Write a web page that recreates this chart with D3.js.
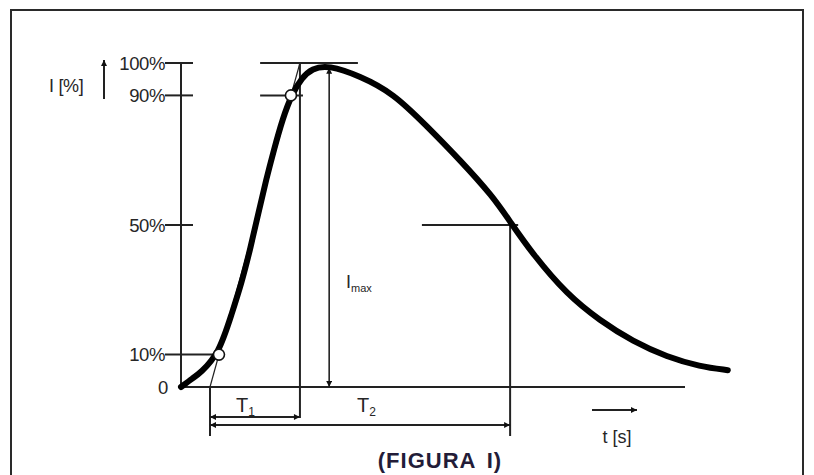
<!DOCTYPE html>
<html>
<head>
<meta charset="utf-8">
<script src="https://cdn.jsdelivr.net/npm/d3@7"></script>
<style>
  body { margin: 0; background: #fff; }
  text { font-family: "Liberation Sans", Arial, sans-serif; fill: #262626; }
</style>
</head>
<body>
<svg id="vis-svg" width="814" height="475"></svg>
<script>
var width = 814;
var height = 475;

// pulse curve (time in arbitrary units, current in %)
const curveT = [0, 2.4, 3.8, 7.5, 10.1, 12.0, 13.8, 15.4, 16.9, 18.4, 20.2, 22.0, 24.0, 26.0, 29.2, 35.5, 42.1, 48.8, 55.4, 61.9, 65.3, 69.8, 76.6, 83.1, 89.7, 96.4, 103, 108.5];
const curveI = [0, 2.8, 4.3, 10.2, 22.8, 32, 43, 54, 64, 73, 83, 90.4, 95.5, 98.3, 99.4, 96, 90.7, 80.5, 70, 58.8, 51, 41, 28.5, 20.5, 14, 9.3, 6.3, 5.2];

// y ticks
const tickValues = [0, 10, 50, 90, 100];
const tickLabels = ["0", "10%", "50%", "90%", "100%"];

// construction times
const tOrigin = 5.75;   // virtual start (tangent meets 0)
const tFront = 23.6;    // end of T1 (tangent meets 100%)
const tPeak = 29.4;     // Imax
const tHalf = 65.3;     // 50% on the tail
const tEnd = 100;       // end of time axis

const svg = d3.select("#vis-svg");

const x = d3.scaleLinear().domain([0, 100]).range([181, 685]);
const y = d3.scaleLinear().domain([0, 100]).range([387, 63]);

// frame
svg.append("rect")
  .attr("x", 11).attr("y", 10)
  .attr("width", 792).attr("height", 520)
  .attr("fill", "none").attr("stroke", "#2a2a2a").attr("stroke-width", 2);

// arrow marker
svg.append("defs").append("marker")
  .attr("id", "arr")
  .attr("viewBox", "0 0 10 10")
  .attr("refX", 10).attr("refY", 5)
  .attr("markerWidth", 9).attr("markerHeight", 6)
  .attr("markerUnits", "userSpaceOnUse")
  .attr("orient", "auto-start-reverse")
  .append("path").attr("d", "M0,0L10,5L0,10z").attr("fill", "#111");

const g = svg.append("g");
const stroke = "#222";

function line(x1, y1, x2, y2, w) {
  return g.append("line")
    .attr("x1", x1).attr("y1", y1).attr("x2", x2).attr("y2", y2)
    .attr("stroke", stroke).attr("stroke-width", w || 2);
}

// axes
line(x(0), y(100), x(0), y(0));
line(x(0), y(0), x(tEnd), y(0));

// y ticks + labels
tickValues.forEach((v, i) => {
  if (v > 0) {
    const x2 = v === 10 ? x(tOrigin + (tFront - tOrigin) * 0.1) - 6 : x(0) + 12;
    line(x(0) - 16, y(v), x2, y(v));
  }
  g.append("text")
    .attr("x", v === 0 ? x(0) - 13 : x(0) - 16)
    .attr("y", y(v) + 6.5)
    .attr("text-anchor", "end")
    .attr("font-size", 18.5)
    .attr("letter-spacing", -0.4)
    .text(tickLabels[i]);
});

// y label and arrow
g.append("text").attr("x", 49).attr("y", 92).attr("font-size", 18).attr("letter-spacing", -0.3).text("I [%]");
line(104, 99, 104, 60, 2).attr("marker-end", "url(#arr)");

// helper horizontal lines
line(x(15.7), y(100), x(35.1), y(100));
line(x(15.7), y(90), x(24.2), y(90));
line(x(47.8), y(50), x(66.9), y(50));

// tangent through 10% and 90%
line(x(tOrigin), y(0), x(tFront), y(100), 1.2);

// verticals
line(x(tFront), y(100), x(tFront), 418);
line(x(tOrigin), y(0), x(tOrigin), 436);
line(x(tHalf), y(50), x(tHalf), 436);

// Imax arrow
line(x(tPeak), y(0), x(tPeak), y(98.5), 1.6)
  .attr("marker-start", "url(#arr)").attr("marker-end", "url(#arr)");

// the pulse
const pts = curveT.map((t, i) => [t, curveI[i]]);
g.append("path")
  .datum(pts)
  .attr("fill", "none")
  .attr("stroke", "#000")
  .attr("stroke-width", 6)
  .attr("stroke-linecap", "round")
  .attr("d", d3.line().x(d => x(d[0])).y(d => y(d[1])).curve(d3.curveBasis));

// 10% and 90% points
[0.1, 0.9].forEach(f => {
  g.append("circle")
    .attr("cx", x(tOrigin + (tFront - tOrigin) * f))
    .attr("cy", y(f * 100))
    .attr("r", 5.5)
    .attr("fill", "#fff").attr("stroke", "#111").attr("stroke-width", 1.6);
});

// T1 / T2 dimension arrows
line(x(tOrigin), 417, x(tFront), 417).attr("marker-start", "url(#arr)").attr("marker-end", "url(#arr)");
line(x(tOrigin), 425, x(tHalf), 425).attr("marker-start", "url(#arr)").attr("marker-end", "url(#arr)");

function sub(xp, yp, main, s, size, ss) {
  const t = g.append("text").attr("x", xp).attr("y", yp).attr("font-size", size);
  t.append("tspan").text(main);
  t.append("tspan").attr("font-size", ss).attr("dy", 4).text(s);
}
sub(236, 412, "T", "1", 20, 12);
sub(357, 412, "T", "2", 20, 12);
sub(346, 288, "I", "max", 18, 11);

// time label and arrow
line(592, 410, 637, 410, 2).attr("marker-end", "url(#arr)");
g.append("text").attr("x", 617).attr("y", 443).attr("text-anchor", "middle")
  .attr("font-size", 18).text("t [s]");

// caption
g.append("text").attr("x", 440).attr("y", 468).attr("text-anchor", "middle")
  .attr("font-family", "Lato, 'Open Sans', sans-serif")
  .attr("font-weight", "bold").attr("font-size", 22)
  .attr("letter-spacing", 1).attr("word-spacing", 4)
  .style("fill", "#231c38").text("(FIGURA I)");
</script>
</body>
</html>
